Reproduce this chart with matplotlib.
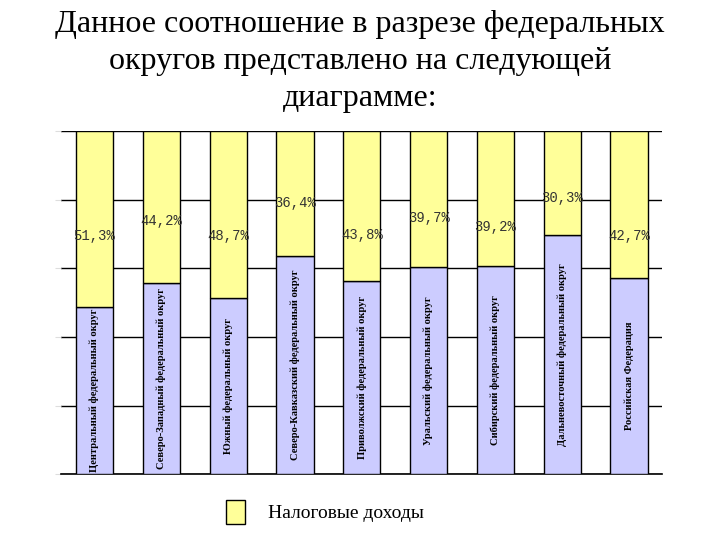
import matplotlib.pyplot as plt
import numpy as np

districts = ["Центральный федеральный округ",
             "Северо-Западный федеральный округ",
             "Южный федеральный округ",
             "Северо-Кавказский федеральный округ",
             "Приволжский федеральный округ",
             "Уральский федеральный округ",
             "Сибирский федеральный округ",
             "Дальневосточный федеральный округ",
             "Российская Федерация"]
tax_share = [51.3, 44.2, 48.7, 36.4, 43.8, 39.7, 39.2, 30.3, 42.7]
tax_labels = ["51,3%", "44,2%", "48,7%", "36,4%", "43,8%", "39,7%", "39,2%", "30,3%", "42,7%"]
# where the percent labels sit (in % of bar height)
label_y = [69.4, 73.8, 69.4, 79.0, 69.7, 74.6, 72.0, 80.5, 69.4]

other_share = [100 - v for v in tax_share]

fig = plt.figure(figsize=(7.2, 5.4), dpi=100)
ax = fig.add_axes([0.085, 0.122, 0.835, 0.635])

x = np.arange(len(districts))
w = 0.555
ax.bar(x, other_share, w, color="#ccccff", edgecolor="black", linewidth=1.0, zorder=3)
ax.bar(x, tax_share, w, bottom=other_share, color="#ffff99", edgecolor="black",
       linewidth=1.0, zorder=3, label="Налоговые доходы")

for i in range(len(x)):
    ax.text(x[i], other_share[i] / 2, districts[i], rotation=90, ha="center", va="center",
            fontsize=7.6, fontweight="bold", family="Liberation Serif", zorder=4)
    ax.text(x[i], label_y[i], tax_labels[i], ha="center", va="center",
            fontsize=10, family="Liberation Mono", color="#333333", zorder=4)

ax.set_xlim(-0.5, len(x) - 0.5)
ax.set_ylim(0, 100)
ax.set_yticks([0, 20, 40, 60, 80, 100])
ax.yaxis.grid(True, color="black", linewidth=1.0, zorder=0)
ax.set_yticklabels([])
ax.set_xticks([])
ax.tick_params(axis="y", length=4, color="#dddddd")
for s in ["top", "right", "left"]:
    ax.spines[s].set_visible(False)
ax.spines["bottom"].set_linewidth(1.2)

fig.text(0.5, 0.982, "Данное соотношение в разрезе федеральных\nокругов представлено на следующей\nдиаграмме:",
         ha="center", va="top", fontsize=23, family="Liberation Serif", linespacing=1.36)

fig.legend(loc="center left", bbox_to_anchor=(0.29, 0.052), frameon=False,
           prop={"family": "Liberation Serif", "size": 14},
           handlelength=0.95, handleheight=1.5, handletextpad=1.2)

fig.savefig("out.png", dpi=100)
